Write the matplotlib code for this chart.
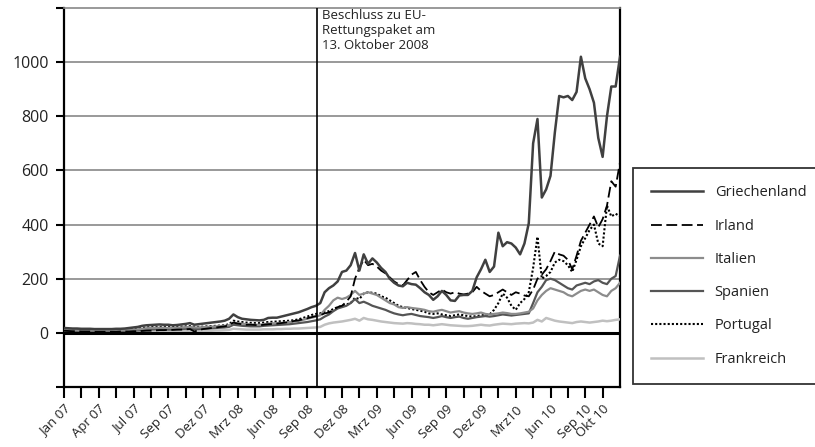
import numpy as np
import matplotlib.pyplot as plt

plt.rcParams['font.family'] = ['Open Sans', 'DejaVu Sans']

# x axis is a category-like index: one tick every 1.5 months, data every quarter tick
tick_labels = ['Jan 07', '', 'Apr 07', '', 'Jul 07', '', 'Sep 07', '', 'Dez 07', '',
               'Mrz 08', '', 'Jun 08', '', 'Sep 08', '', 'Dez 08', '', 'Mrz 09', '',
               'Jun 09', '', 'Sep 09', '', 'Dez 09', '', 'Mrz10', '', 'Jun 10', '',
               'Sep 10', 'Okt 10']
event_pos = 14.55
event_text = 'Beschluss zu EU-\nRettungspaket am\n13. Oktober 2008'

griechenland = [18, 17, 16, 16, 15, 15, 15, 14, 14, 14, 14, 14, 15, 15, 16,
                18, 20, 22, 26, 28, 29, 30, 31, 30, 30, 28, 29, 31, 33, 36,
                30, 32, 34, 36, 38, 40, 42, 45, 52, 68, 58, 52, 50, 48, 47, 46, 48,
                55, 56, 56, 60, 64, 68, 72, 76, 82, 88, 95, 100,
                110, 150, 165, 175, 190, 225, 230, 250, 295, 230, 290, 255, 275, 260,
                240, 225, 200, 185, 175, 172, 185, 180, 178, 165, 150, 140, 122, 135,
                155, 140, 120, 118, 138, 140, 140, 155, 205, 235, 270, 225, 245, 370,
                320, 335, 330, 315, 290, 330, 405, 700, 790, 500, 530, 580, 740, 875,
                870, 875, 860, 890, 1020, 940, 900, 850, 720, 650, 800, 910, 910, 1020]

irland = [8, 7, 6, 6, 5, 5, 5, 4, 4, 4, 4, 4, 4, 5, 5,
          5, 6, 6, 7, 8, 8, 9, 10, 10, 11, 11, 12, 12, 13, 14,
          5, 10, 14, 16, 18, 20, 22, 24, 28, 38, 34, 32, 30, 30, 29, 28, 30,
          32, 33, 34, 36, 38, 40, 44, 46, 50, 54, 58, 62,
          65, 72, 75, 85, 95, 100, 115, 135, 200, 240, 270, 250, 255, 245,
          230, 220, 205, 190, 180, 175, 195, 215, 225, 195, 170, 150, 140, 150,
          160, 150, 145, 150, 145, 142, 145, 150, 170, 155, 145, 135, 140, 150,
          160, 150, 140, 150, 145, 138, 135, 160, 200, 215, 235, 265, 300, 290,
          285, 270, 235, 285, 340, 370, 400, 430, 390, 420, 470, 560, 540, 630]

italien = [10, 10, 10, 10, 9, 9, 9, 9, 9, 9, 9, 9, 10, 10, 10,
           11, 12, 13, 15, 17, 18, 19, 19, 19, 18, 18, 19, 20, 21, 22,
           20, 20, 21, 22, 23, 24, 25, 26, 28, 38, 36, 34, 32, 31, 30, 30, 32,
           34, 35, 36, 37, 38, 40, 42, 44, 48, 52, 56, 60,
           65, 85, 100, 120, 130, 125, 130, 140, 155, 140, 145, 150, 145, 140,
           130, 120, 110, 105, 95, 92, 95, 92, 90, 88, 85, 80, 78, 82,
           85, 80, 75, 78, 80, 75, 72, 70, 72, 75, 70, 68, 70, 72,
           75, 73, 70, 70, 72, 75, 78, 90, 120, 140, 155, 165, 160, 155,
           150, 140, 135, 145, 155, 160, 155, 160, 150, 140, 135, 155, 165, 185]

spanien = [7, 7, 7, 7, 6, 6, 6, 6, 6, 6, 6, 6, 6, 7, 7,
           7, 8, 9, 10, 11, 12, 13, 13, 13, 12, 12, 13, 14, 15, 16,
           14, 14, 15, 16, 17, 18, 19, 20, 22, 30, 28, 26, 25, 24, 24, 24, 26,
           27, 28, 29, 30, 31, 32, 34, 36, 38, 40, 43, 46,
           50, 60, 68, 80, 90, 95, 100, 110, 125, 110, 115, 108, 100, 95,
           90, 85, 78, 72, 68, 65, 68, 70, 66, 62, 60, 58, 55, 58,
           62, 58, 55, 58, 60, 55, 52, 55, 58, 60, 62, 60, 62, 65,
           68, 66, 64, 66, 68, 70, 72, 110, 150, 170, 195, 200, 195, 185,
           175, 165, 160, 175, 180, 185, 180, 190, 195, 185, 180, 200, 210, 285]

portugal = [12, 12, 12, 12, 11, 11, 11, 11, 11, 11, 11, 11, 12, 12, 12,
            13, 14, 16, 18, 20, 21, 22, 22, 22, 21, 21, 22, 23, 24, 25,
            22, 22, 23, 24, 25, 26, 27, 28, 32, 45, 42, 40, 38, 37, 36, 36, 38,
            40, 41, 42, 43, 44, 45, 47, 50, 55, 60, 66, 70,
            72, 78, 80, 88, 95, 100, 105, 110, 130, 125, 145, 150, 148, 145,
            135, 130, 120, 110, 100, 95, 92, 88, 85, 82, 78, 72, 70, 72,
            68, 65, 62, 65, 68, 65, 62, 60, 62, 65, 66, 68, 85, 110,
            145, 130, 100, 85, 110, 125, 150, 240, 355, 200, 210, 225, 260, 270,
            265, 250, 225, 270, 320, 350, 380, 400, 330, 320, 470, 430, 440, 430]

frankreich = [3, 3, 3, 3, 3, 3, 3, 3, 3, 3, 3, 3, 3, 3, 3,
              4, 4, 4, 5, 5, 5, 6, 6, 6, 6, 6, 6, 6, 7, 7,
              7, 7, 8, 8, 8, 9, 9, 10, 11, 15, 14, 13, 12, 12, 12, 12, 13,
              13, 13, 14, 14, 15, 15, 16, 16, 17, 18, 19, 20,
              22, 30, 35, 38, 40, 42, 45, 48, 52, 45, 55, 50, 48, 45,
              42, 40, 38, 36, 35, 34, 36, 35, 33, 32, 30, 30, 28, 30,
              32, 30, 28, 27, 26, 25, 25, 26, 28, 30, 28, 27, 30, 32,
              34, 33, 32, 34, 35, 36, 35, 38, 48, 42, 55, 50, 45, 42,
              40, 38, 36, 40, 42, 40, 38, 40, 42, 45, 43, 45, 48, 50]

series = [
    ('Griechenland', griechenland, dict(color='#404040', lw=1.8, ls='-')),
    ('Irland', irland, dict(color='black', lw=1.3, ls=(0, (6, 2.5)))),
    ('Italien', italien, dict(color='#8c8c8c', lw=1.6, ls='-')),
    ('Spanien', spanien, dict(color='#555555', lw=1.6, ls='-')),
    ('Portugal', portugal, dict(color='black', lw=1.5, ls=(0, (1, 1)))),
    ('Frankreich', frankreich, dict(color='#c0c0c0', lw=1.8, ls='-')),
]

fig = plt.figure(figsize=(8.15, 4.47), dpi=100)
ax = fig.add_axes([64/815, 1-387/447, (620-64)/815, (387-8)/447])

# draw back to front so Griechenland sits on top like the original
for name, vals, style in series[::-1]:
    x = np.arange(len(vals)) * 0.25
    ax.plot(x, vals, label=name, zorder=3, **style)

ax.set_xlim(0, 32)
ax.set_ylim(-200, 1200)

for yv in [200, 400, 600, 800, 1000]:
    ax.axhline(yv, color='#888888', lw=1.2, zorder=1)
ax.axhline(0, color='black', lw=2.2, zorder=4)
ax.axvline(event_pos, color='black', lw=1.2, zorder=4)

ax.set_yticks(np.arange(-200, 1201, 200))
ax.set_yticklabels(['' if (v < 0 or v > 1000) else str(v) for v in range(-200, 1201, 200)])
ax.set_xticks(np.arange(len(tick_labels)))
ax.set_xticklabels(tick_labels, rotation=45, ha='right', rotation_mode='anchor', fontsize=9.5)

ax.tick_params(axis='y', direction='out', length=6, width=1.5, labelsize=11.5,
               labelcolor='#222222', pad=5)
ax.tick_params(axis='x', direction='out', length=8, width=1.5, pad=3,
               labelcolor='#222222')

for side in ['left', 'bottom', 'right']:
    ax.spines[side].set_color('black')
    ax.spines[side].set_linewidth(1.6)
ax.spines['top'].set_color('#888888')
ax.spines['top'].set_linewidth(1.2)

ax.text(event_pos + 0.3, 1197, event_text, va='top', ha='left', fontsize=9.5,
        color='#222222', linespacing=1.2)

# legend in the original order
handles, labels = ax.get_legend_handles_labels()
order = [labels.index(s[0]) for s in series]
leg = fig.legend([handles[i] for i in order], [labels[i] for i in order],
                 loc='upper left', bbox_to_anchor=(633/815, 1-168/447),
                 fontsize=10.5, frameon=True, fancybox=False, handlelength=3.6,
                 labelspacing=1.25, borderpad=1.2, handletextpad=0.8,
                 borderaxespad=0)
leg.get_frame().set_edgecolor('black')
leg.get_frame().set_linewidth(1.3)
for t in leg.get_texts():
    t.set_color('#222222')

fig.savefig('out.png', dpi=100)
